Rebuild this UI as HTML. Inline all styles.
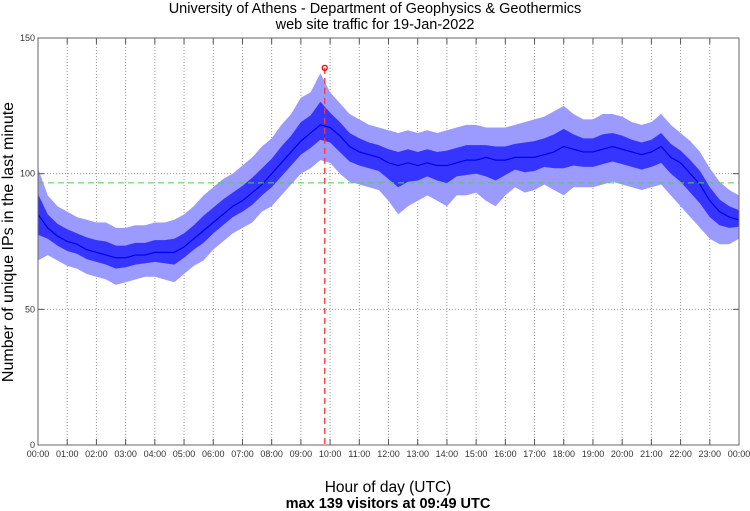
<!DOCTYPE html>
<html><head><meta charset="utf-8"><style>
body{margin:0;background:#fff;}
svg{display:block;font-family:"Liberation Sans",sans-serif;}
</style></head><body>
<svg id="chart" width="750" height="511" viewBox="0 0 750 511" xmlns="http://www.w3.org/2000/svg">
<text x="375" y="13" font-size="14.5" text-anchor="middle">University of Athens - Department of Geophysics &amp; Geothermics</text>
<text x="375" y="29" font-size="14.5" text-anchor="middle">web site traffic for 19-Jan-2022</text>
<text transform="translate(13,242) rotate(-90)" font-size="16" text-anchor="middle">Number of unique IPs in the last minute</text>
<text x="388" y="492" font-size="15.5" text-anchor="middle">Hour of day (UTC)</text>
<text x="388" y="508" font-size="14.5" font-weight="bold" text-anchor="middle">max 139 visitors at 09:49 UTC</text>
<g id="grid"></g><g id="series"></g><g id="axes"></g>
</svg>
<script>
const hourLabels=["00:00","01:00","02:00","03:00","04:00","05:00","06:00","07:00","08:00","09:00","10:00","11:00","12:00","13:00","14:00","15:00","16:00","17:00","18:00","19:00","20:00","21:00","22:00","23:00","00:00"];
const yTicks=[0,50,100,150];
const avgVals=[85,80,77,75,74,72,71,70,69,69,70,70,71,71,71,73,76,79,82,85,88,90,93,96,100,104,108,112,115,118,117,114,110,108,107,106,104,103,104,103,104,103,103,104,105,105,106,105,105,106,106,106,107,108,110,109,108,108,109,110,109,108,107,108,110,106,104,100,96,90,86,84,83];
const hiVals=[102,92,88,86,84,83,82,82,80,80,81,81,82,82,83,85,88,92,95,98,100,103,106,110,113,118,122,128,130,137,130,126,122,120,118,117,116,115,116,115,116,115,116,117,118,118,117,117,117,118,119,120,121,123,125,122,120,120,122,122,121,119,118,119,122,118,115,112,108,102,97,94,92];
const loVals=[68,70,68,66,65,63,62,61,59,60,61,62,62,61,60,63,66,68,72,75,78,80,82,86,88,92,96,100,102,105,104,100,97,96,95,94,90,85,88,90,92,90,88,92,92,93,90,88,92,95,93,94,96,94,92,95,95,95,96,97,96,95,94,95,96,92,88,84,80,76,74,74,76];
const meanVal=[96.6];
const maxPoint=[9+49/60,139];
const L=38,R=739,T=38,B=445;
const X=h=>L+(R-L)*h/24;
const Y=v=>B-(B-T)*v/150;
const NS="http://www.w3.org/2000/svg";
function mk(tag,attrs,parent){const e=document.createElementNS(NS,tag);for(const k in attrs)e.setAttribute(k,attrs[k]);document.getElementById(parent).appendChild(e);return e;}
const stepH=24/(avgVals.length-1);
hourLabels.forEach((lab,i)=>{
  const x=X(i);
  if(i>0&&i<24){const g=mk('line',{x1:x,x2:x,y1:T,y2:B,stroke:'#999','stroke-dasharray':'1,2','stroke-width':1},'grid');
  
  }
  const t=mk('line',{x1:x,x2:x,y1:B,y2:B-6,stroke:'#555'},'axes');
  
  
  const t2=mk('line',{x1:x,x2:x,y1:T,y2:T+6,stroke:'#555'},'axes');
  
  
  const tx=mk('text',{x:x,y:457,'font-size':9,'text-anchor':'middle',fill:'#333'},'axes');tx.textContent=lab;
  
  
});
yTicks.forEach(v=>{
  const y=Y(v);
  if(v>0&&v<150){const g=mk('line',{x1:L,x2:R,y1:y,y2:y,stroke:'#999','stroke-dasharray':'1,2'},'grid');
  
  }
  const t=mk('line',{x1:L,x2:L+6,y1:y,y2:y,stroke:'#555'},'axes');
  
  
  const t2=mk('line',{x1:R,x2:R-6,y1:y,y2:y,stroke:'#555'},'axes');
  
  
  const tx=mk('text',{x:L-3,y:y+3,'font-size':9,'text-anchor':'end',fill:'#333'},'axes');tx.textContent=v;
  
  
});
function band(up,dn,fill,name){
  let pts=up.map((v,i)=>X(i*stepH)+','+Y(v));
  for(let i=dn.length-1;i>=0;i--)pts.push(X(i*stepH)+','+Y(dn[i]));
  const p=mk('polygon',{points:pts.join(' '),fill:fill},'series');
  
  
}
band(hiVals,loVals,'#9a9aff','traffic-range-band');
band(avgVals.map((v,i)=>(v+hiVals[i])/2-1),avgVals.map((v,i)=>(v+loVals[i])/2+1),'#3535ff','traffic-core-band');
const ln=mk('polyline',{points:avgVals.map((v,i)=>X(i*stepH)+','+Y(v)).join(' '),fill:'none',stroke:'#0000ee','stroke-width':1.2},'series');


const mean=mk('line',{x1:L,x2:R,y1:Y(meanVal[0]),y2:Y(meanVal[0]),stroke:'#5c5','stroke-dasharray':'6,4'},'series');


const mv=mk('line',{x1:X(maxPoint[0]),x2:X(maxPoint[0]),y1:Y(maxPoint[1]),y2:B,stroke:'#f33','stroke-dasharray':'6,4','stroke-width':1.3},'series');


const mc=mk('circle',{cx:X(maxPoint[0]),cy:Y(maxPoint[1]),r:2.5,fill:'none',stroke:'#e00','stroke-width':1.3},'series');


const fr=mk('rect',{x:L,y:T,width:R-L,height:B-T,fill:'none',stroke:'#666'},'axes');


</script>
</body></html>
